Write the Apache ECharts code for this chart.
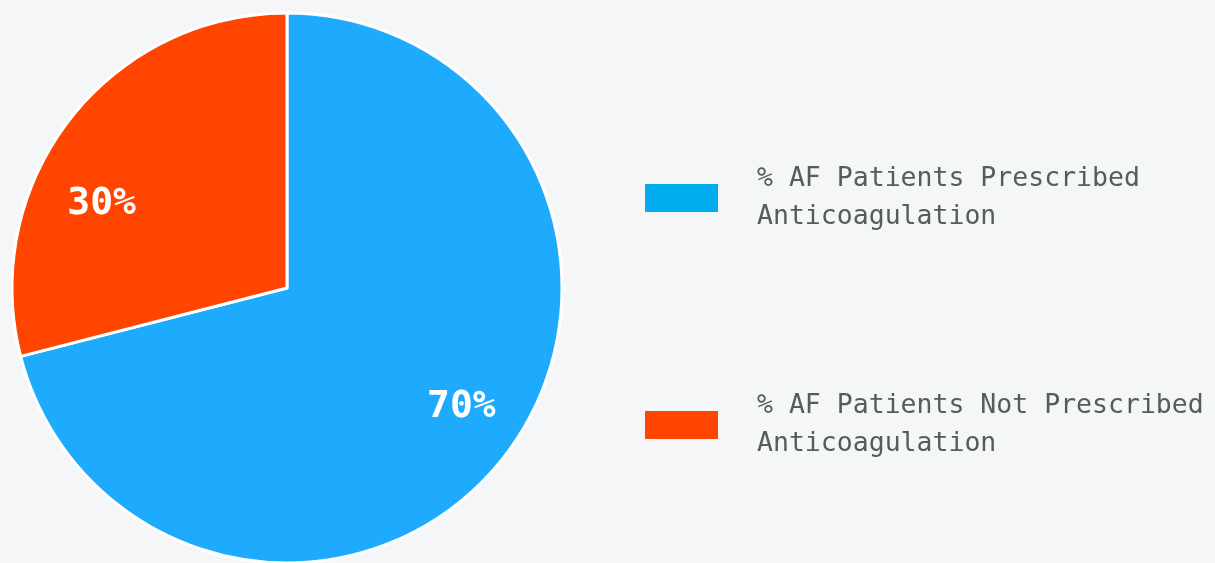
<!DOCTYPE html>
<html lang="en" style="height: 100%">
<head>
  <meta charset="utf-8">
</head>
<body style="height: 100%; margin: 0; background: #f5f6f8">
  <div id="container" style="height: 100%"></div>

  <script type="text/javascript" src="https://cdn.jsdelivr.net/npm/echarts@6/dist/echarts.min.js"></script>

  <script type="text/javascript">
    var dom = document.getElementById('container');
    var myChart = echarts.init(dom, null, {
      renderer: 'canvas',
      useDirtyRect: false
    });
    var option;

    var names = [
      '% AF Patients Prescribed\nAnticoagulation',
      '% AF Patients Not Prescribed\nAnticoagulation'
    ];
    // slice sizes, printed labels as shown
    var values = [71, 29];
    var labels = ['70%', '30%'];
    var sliceColors = ['#1eabfd', '#ff4500'];
    var legendColors = ['#00aeef', '#ff4500'];
    // small nudges so the percent labels sit where the original put them
    var labelNudge = [[9, -9], [-20, 44]];

    var FONT = '"DejaVu Sans Mono", monospace';
    var R = 275;
    var CENTER = [287, 288];

    var pieData = names.map(function (n, i) {
      return { name: n, value: values[i], itemStyle: { color: sliceColors[i] } };
    });

    option = {
      backgroundColor: '#f5f6f8',
      animation: false,
      legend: {
        orient: 'vertical',
        left: 640,
        top: 155,
        itemWidth: 73,
        itemHeight: 28,
        itemGap: 151,
        icon: 'rect',
        selectedMode: false,
        itemStyle: { borderWidth: 0 },
        data: names.map(function (n, i) {
          return { name: n, itemStyle: { color: legendColors[i], borderWidth: 0 } };
        }),
        textStyle: {
          fontFamily: FONT,
          fontSize: 26.5,
          lineHeight: 38,
          color: '#545c5c',
          padding: [0, 0, 0, 34]
        }
      },
      series: [
        {
          type: 'pie',
          center: CENTER,
          radius: [0, R],
          startAngle: 90,
          clockwise: true,
          silent: true,
          label: { show: false },
          labelLine: { show: false },
          itemStyle: { borderColor: '#ffffff', borderWidth: 3 },
          data: pieData
        },
        {
          // transparent ring, only to put the percent labels near 3/4 radius
          type: 'pie',
          center: CENTER,
          radius: [R / 2, R],
          startAngle: 90,
          clockwise: true,
          silent: true,
          itemStyle: { color: 'transparent', borderWidth: 0 },
          label: {
            show: true,
            position: 'inside',
            formatter: function (p) {
              return labels[p.dataIndex];
            },
            fontFamily: FONT,
            fontSize: 38,
            fontWeight: 'bold',
            color: '#ffffff'
          },
          labelLine: { show: false },
          labelLayout: function (p) {
            return { dx: labelNudge[p.dataIndex][0], dy: labelNudge[p.dataIndex][1] };
          },
          data: names.map(function (n, i) {
            return { name: n, value: values[i] };
          })
        }
      ]
    };

    if (option && typeof option === 'object') {
      myChart.setOption(option);
    }

    window.addEventListener('resize', myChart.resize);
  </script>
</body>
</html>
